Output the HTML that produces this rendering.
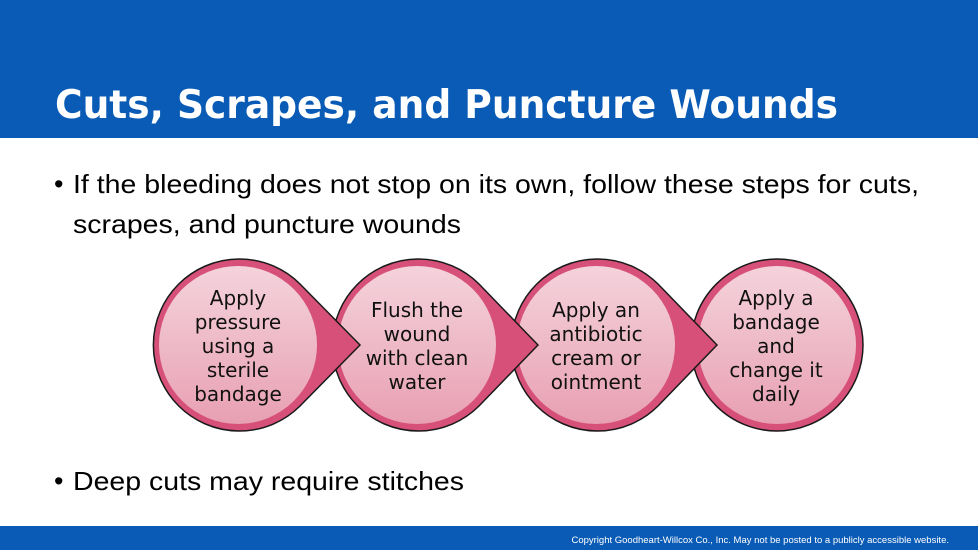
<!DOCTYPE html>
<html><head><meta charset="utf-8"><style>
html,body{margin:0;padding:0;background:#fff;}
svg{display:block;}
</style></head><body>
<svg width="978" height="550" viewBox="0 0 978 550" xmlns="http://www.w3.org/2000/svg">
<defs>
<linearGradient id="g" x1="0" y1="0" x2="0" y2="1">
<stop offset="0" stop-color="#f4d3dc"/><stop offset="1" stop-color="#e8a0b3"/>
</linearGradient>
</defs>
<rect x="0" y="0" width="978" height="138" fill="#0a5bb5"/>
<text x="55" y="118" fill="#fff" font-family="DejaVu Sans, Liberation Sans, sans-serif" font-weight="bold" font-size="39" textLength="783" lengthAdjust="spacingAndGlyphs">Cuts, Scrapes, and Puncture Wounds</text>
<g font-family="Liberation Sans, Arial, sans-serif" font-size="26" fill="#000">
<text x="54" y="193" font-size="27">•</text>
<text x="73" y="193" textLength="846" lengthAdjust="spacingAndGlyphs">If the bleeding does not stop on its own, follow these steps for cuts,</text>
<text x="73" y="233" textLength="388" lengthAdjust="spacingAndGlyphs">scrapes, and puncture wounds</text>
<text x="54" y="490" font-size="27">•</text>
<text x="73" y="490" textLength="391" lengthAdjust="spacingAndGlyphs">Deep cuts may require stitches</text>
</g>
<g stroke="#1a1a1a" stroke-width="1.5">
<circle cx="777" cy="345" r="86" fill="#d6507a"/>
<circle cx="777" cy="345" r="79" fill="url(#g)" stroke="none"/>
<path d="M717 345 L658 284 A86 86 0 1 0 658 406 Z" fill="#d6507a"/>
<circle cx="596" cy="345" r="79" fill="url(#g)" stroke="none"/>
<path d="M538 345 L479 284 A86 86 0 1 0 479 406 Z" fill="#d6507a"/>
<circle cx="417" cy="345" r="79" fill="url(#g)" stroke="none"/>
<path d="M360 345 L300 284 A86 86 0 1 0 300 406 Z" fill="#d6507a"/>
<circle cx="238" cy="345" r="79" fill="url(#g)" stroke="none"/>
</g>
<g font-family="DejaVu Sans, Liberation Sans, sans-serif" font-size="20" fill="#111" text-anchor="middle">
<text x="238" y="305">Apply</text><text x="238" y="329">pressure</text><text x="238" y="353">using a</text><text x="238" y="377">sterile</text><text x="238" y="401">bandage</text>
<text x="417" y="317">Flush the</text><text x="417" y="341">wound</text><text x="417" y="365">with clean</text><text x="417" y="389">water</text>
<text x="596" y="317">Apply an</text><text x="596" y="341">antibiotic</text><text x="596" y="365">cream or</text><text x="596" y="389">ointment</text>
<text x="776" y="305">Apply a</text><text x="776" y="329">bandage</text><text x="776" y="353">and</text><text x="776" y="377">change it</text><text x="776" y="401">daily</text>
</g>
<rect x="0" y="526" width="978" height="24" fill="#0a5bb5"/>
<text x="949" y="543" fill="#fff" font-family="Liberation Sans, Arial, sans-serif" font-size="9.5" text-anchor="end">Copyright Goodheart-Willcox Co., Inc.  May not be posted to a publicly accessible website.</text>
</svg>
</body></html>
